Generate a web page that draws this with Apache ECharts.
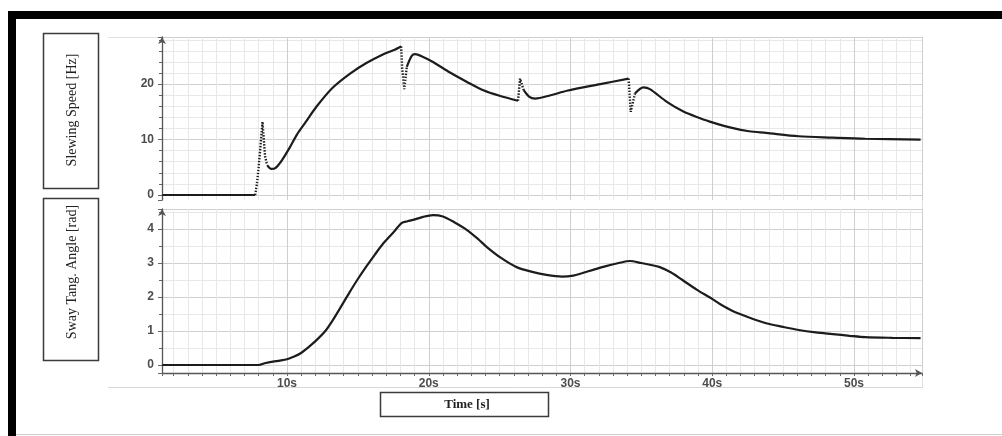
<!DOCTYPE html>
<html><head><meta charset="utf-8">
<script src="https://cdn.jsdelivr.net/npm/echarts@6/dist/echarts.min.js"></script>
<style>html,body{margin:0;padding:0;background:#fff}#c{width:1002px;height:436px}</style>
</head><body><div id="c"></div>
<script>
// ---- data ----
const speedTime = [1.2, 7.75, 7.85, 8.0, 8.15, 8.27, 8.35, 8.45, 8.6, 8.9, 9.2, 9.7, 10.2, 10.7, 11.3, 12.1, 13.2, 14.45, 15.6, 16.8, 17.5, 18.05,
  18.12, 18.27, 18.45, 18.8, 19.04, 19.6, 20.3, 21.5, 22.7, 23.85, 25.0, 26.3, 26.44, 26.7, 27.1, 27.5, 28.6, 29.75, 32.1, 34.1,
  34.25, 34.55, 35.15, 35.6, 36.8, 38.0, 39.1, 40.0, 41.4, 42.6, 43.8, 46.1, 48.5, 50.8, 54.7];
const speedValues = [0, 0, 1.5, 5, 9.5, 13.2, 10.5, 7, 5.4, 4.7, 4.9, 6.5, 8.6, 10.9, 13.1, 16.0, 19.3, 21.9, 23.8, 25.4, 26.1, 26.8,
  23, 19.1, 23.1, 25.1, 25.4, 24.9, 24.0, 22.1, 20.4, 18.9, 17.9, 17.0, 21.0, 18.9, 17.7, 17.4, 18.0, 18.8, 20.0, 21.0,
  15.0, 18.3, 19.4, 19.1, 16.8, 15.0, 13.9, 13.1, 12.1, 11.5, 11.2, 10.6, 10.35, 10.15, 10.0];
const angleTime = [1.2, 8.0, 8.5, 9.0, 9.5, 10.0, 10.5, 10.9, 11.5, 12.1, 12.7, 13.2, 13.8, 14.4, 15.0, 15.6, 16.2, 16.8, 17.5, 18.1, 18.5, 18.9,
  19.6, 20.3, 21.0, 21.8, 22.7, 23.5, 24.1, 25.1, 26.2, 27.3, 28.3, 29.4, 30.2, 30.8, 31.6, 32.5, 33.4, 34.2, 35.0, 35.6, 36.3, 37.1,
  37.9, 38.9, 39.9, 40.6, 41.4, 42.6, 43.8, 45.0, 46.1, 47.3, 48.5, 49.7, 50.8, 52.7, 54.7];
const angleValues = [0, 0, 0.06, 0.1, 0.13, 0.17, 0.25, 0.33, 0.52, 0.74, 1.0, 1.3, 1.71, 2.13, 2.53, 2.9, 3.25, 3.58, 3.9, 4.18, 4.23, 4.27,
  4.36, 4.41, 4.37, 4.2, 3.97, 3.7, 3.47, 3.15, 2.88, 2.74, 2.65, 2.6, 2.63, 2.7, 2.8, 2.91, 3.0, 3.06, 3.0, 2.95, 2.88, 2.72,
  2.5, 2.22, 1.97, 1.78, 1.6, 1.4, 1.23, 1.12, 1.03, 0.96, 0.91, 0.86, 0.82, 0.8, 0.79];
const timeRange = [1.18, 54.8];
const speedRange = [-0.9, 28.5];
const angleRange = [-0.235, 4.59];
const timeUnit = 's';
const labelSpeed = 'Slewing Speed [Hz]';
const labelAngle = 'Sway Tang. Angle [rad]';
const labelTime = 'Time [s]';

// split a curve into ordinary and steep (sampled, dotted-looking) parts
function build(ts, vs, thr, wantSteep) {
  const out = []; let open = false;
  for (let i = 0; i < ts.length - 1; i++) {
    const steep = Math.abs((vs[i+1]-vs[i])/(ts[i+1]-ts[i])) > thr;
    if (steep === wantSteep) {
      if (!open) { out.push([ts[i], vs[i]]); open = true; }
      out.push([ts[i+1], vs[i+1]]);
    } else if (open) { out.push([(ts[i]+ts[i+1])/2, null]); open = false; }
  }
  return out;
}

const chart = echarts.init(document.getElementById('c'), null, {renderer:'canvas'});
const gridMinor = {show:true, lineStyle:{color:'#e8e8e8', width:1}};
const gridMajor = {show:true, lineStyle:{color:'#cfcfcf', width:1}};
const labelFont = {color:'#4d4d4d', fontSize:12, fontWeight:'bold', fontFamily:'Liberation Sans, Arial, sans-serif'};
const axisLineStyle = {color:'#555', width:1.3};

const xBase = (gi) => ({
  gridIndex: gi, type:'value', min: timeRange[0], max: timeRange[1],
  splitLine: gridMajor, minorSplitLine: gridMinor,
  minorTick: {show: gi===1, splitNumber:10, length:3, lineStyle:{color:'#666'}},
  axisTick: {show: gi===1, length:3, lineStyle:{color:'#666'}},
  axisLine: gi===1 ? {show:true, onZero:false, lineStyle:axisLineStyle, symbol:['none','arrow'], symbolSize:[6,7]} : {show:false},
  axisLabel: gi===1 ? Object.assign({show:true, margin:5, showMinLabel:false, showMaxLabel:false, formatter: v => v + timeUnit}, labelFont) : {show:false}
});
const yBase = (gi, range, splitNumber, minorSplit) => ({
  gridIndex: gi, type:'value', min: range[0], max: range[1], splitNumber: splitNumber,
  splitLine: Object.assign({showMinLine:false}, gridMajor), minorSplitLine: gridMinor,
  minorTick: {show:true, splitNumber: minorSplit, length:3, lineStyle:{color:'#666'}},
  axisTick: {show:true, length:4, lineStyle:{color:'#666'}},
  axisLine: {show:true, onZero:false, lineStyle:axisLineStyle, symbol:['none','arrow'], symbolSize:[6,7]},
  axisLabel: Object.assign({show:true, margin:8, showMinLabel:false, showMaxLabel:false}, labelFont)
});

const lineSolid = {color:'#1c1c1c', width:2.2};
const lineDot = {color:'#1c1c1c', width:2.4, type:[1.4,1.6]};

chart.setOption({
  backgroundColor:'#fff',
  animation:false,
  grid:[
    {left:162, right:80, top:37, height:163},
    {left:162, right:80, top:209, height:164}
  ],
  xAxis:[xBase(0), xBase(1)],
  yAxis:[yBase(0, speedRange, 3, 5), yBase(1, angleRange, 5, 2)],
  series:[
    {type:'line', xAxisIndex:0, yAxisIndex:0, showSymbol:false, connectNulls:false, smooth:0.3, lineStyle:lineSolid, data: build(speedTime, speedValues, 8, false), z:3},
    {type:'line', xAxisIndex:0, yAxisIndex:0, showSymbol:false, connectNulls:false, lineStyle:lineDot, data: build(speedTime, speedValues, 8, true), z:3},
    {type:'line', xAxisIndex:1, yAxisIndex:1, showSymbol:false, smooth:0.3, lineStyle:lineSolid, data: angleTime.map((t,i)=>[t, angleValues[i]]), z:3}
  ],
  graphic:[
    {type:'rect', shape:{x:8, y:11, width:994, height:8}, style:{fill:'#000'}},
    {type:'rect', shape:{x:8, y:11, width:8, height:425}, style:{fill:'#000'}},
    {type:'line', shape:{x1:16, y1:434.5, x2:1002, y2:434.5}, style:{stroke:'#d0d0d0', lineWidth:1}},
    {type:'line', shape:{x1:108, y1:37.5, x2:923, y2:37.5}, style:{stroke:'#e2e2e2', lineWidth:1}},
    {type:'line', shape:{x1:108, y1:387.5, x2:923, y2:387.5}, style:{stroke:'#d8d8d8', lineWidth:1}},
    {type:'line', shape:{x1:922.5, y1:37, x2:922.5, y2:387}, style:{stroke:'#e2e2e2', lineWidth:1}},
    {type:'rect', shape:{x:43.5, y:33.5, width:55, height:155}, style:{fill:'#fff', stroke:'#3a3a3a', lineWidth:1.5}},
    {type:'rect', shape:{x:43.5, y:198.5, width:55, height:162}, style:{fill:'#fff', stroke:'#3a3a3a', lineWidth:1.5}},
    {type:'rect', shape:{x:380.5, y:392.5, width:168, height:24}, style:{fill:'#fff', stroke:'#3a3a3a', lineWidth:1.5}},
    {type:'text', x:72, y:110, rotation:Math.PI/2, style:{text:labelSpeed, fill:'#222', font:'14px "Liberation Serif", "Times New Roman", serif', align:'center', verticalAlign:'middle'}},
    {type:'text', x:72, y:272, rotation:Math.PI/2, style:{text:labelAngle, fill:'#222', font:'14px "Liberation Serif", "Times New Roman", serif', align:'center', verticalAlign:'middle'}},
    {type:'text', x:467, y:404.5, style:{text:labelTime, fill:'#222', font:'bold 13px "Liberation Serif", "Times New Roman", serif', align:'center', verticalAlign:'middle'}}
  ]
});
</script></body></html>
